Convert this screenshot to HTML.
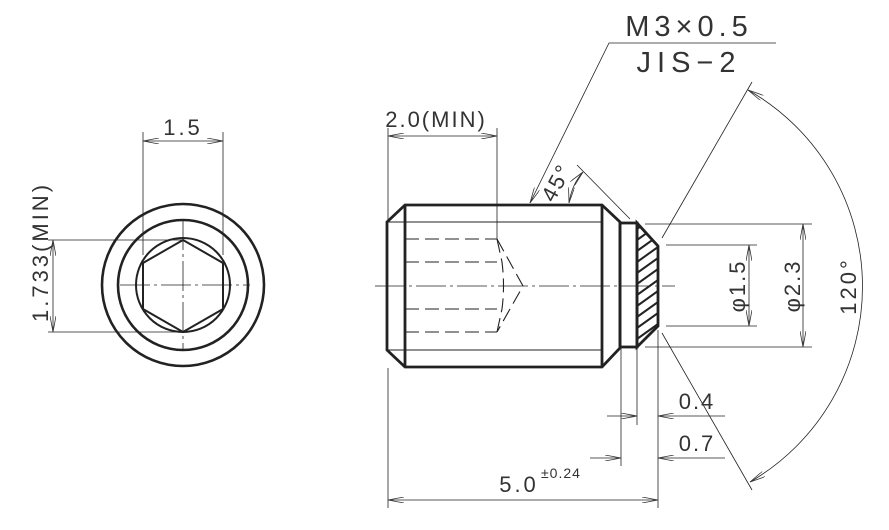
<!DOCTYPE html>
<html><head><meta charset="utf-8"><style>
html,body{margin:0;padding:0;background:#fff;}
svg{display:block;}
text{font-family:"Liberation Sans",sans-serif;fill:#333;}
</style></head><body>
<svg width="889" height="530" viewBox="0 0 889 530" xmlns="http://www.w3.org/2000/svg">
<defs>
<clipPath id="hc"><polygon points="637,223 658,246 658,326 637,347"/></clipPath>
<marker id="a" viewBox="0 0 16 6" refX="16" refY="3" markerWidth="16" markerHeight="6" orient="auto-start-reverse" markerUnits="userSpaceOnUse"><path d="M0,0 L16,3 L0,6" fill="none" stroke="#333" stroke-width="0.8"/></marker>
</defs>
<g stroke="#222" fill="none">
<circle cx="183" cy="285" r="81" stroke-width="2.6"/>
<circle cx="183" cy="285" r="65" stroke-width="2.6"/>
<circle cx="183" cy="285" r="47" stroke-width="2"/>
<polygon points="183,240 223,263 223,309 183,332 143,309 143,263" stroke-width="2"/>
<g stroke-width="0.8">
<line x1="120" y1="285" x2="250" y2="285" stroke-dasharray="30,4,3,4"/>
<line x1="183" y1="220" x2="183" y2="350" stroke-dasharray="30,4,3,4"/>
<line x1="143" y1="132" x2="143" y2="255"/>
<line x1="223" y1="132" x2="223" y2="255"/>
<line x1="143" y1="141" x2="223" y2="141" marker-start="url(#a)" marker-end="url(#a)"/>
<line x1="48" y1="240" x2="183" y2="240"/>
<line x1="48" y1="332" x2="183" y2="332"/>
<line x1="53" y1="240" x2="53" y2="332" marker-start="url(#a)" marker-end="url(#a)"/>
</g>
<g stroke-width="2.8">
<polygon points="405,205 602,205 620,222 620,348 602,367 405,367 387,350 387,222"/>
<line x1="405" y1="205" x2="405" y2="367"/>
<line x1="602" y1="205" x2="602" y2="367"/>
<rect x="620" y="223" width="17" height="124"/>
<polygon points="637,223 658,246 658,326 637,347"/>
</g>
<g clip-path="url(#hc)" stroke-width="2">
<line x1="637" y1="229" x2="658" y2="214"/><line x1="637" y1="240" x2="658" y2="225"/>
<line x1="637" y1="251" x2="658" y2="236"/><line x1="637" y1="262" x2="658" y2="247"/>
<line x1="637" y1="273" x2="658" y2="258"/><line x1="637" y1="284" x2="658" y2="269"/>
<line x1="637" y1="295" x2="658" y2="280"/><line x1="637" y1="306" x2="658" y2="291"/>
<line x1="637" y1="317" x2="658" y2="302"/><line x1="637" y1="328" x2="658" y2="313"/>
<line x1="637" y1="339" x2="658" y2="324"/><line x1="637" y1="350" x2="658" y2="335"/>
<line x1="637" y1="361" x2="658" y2="346"/>
</g>
<g stroke-width="1">
<line x1="387" y1="222" x2="602" y2="222"/>
<line x1="387" y1="350" x2="602" y2="350"/>
</g>
<g stroke-width="1.1" stroke-dasharray="14,6">
<line x1="405" y1="239" x2="497" y2="239"/>
<line x1="405" y1="262" x2="497" y2="262"/>
<line x1="405" y1="309" x2="497" y2="309"/>
<line x1="405" y1="332" x2="497" y2="332"/>
<polyline points="497,239 523,286 497,332"/>
<path d="M497,239 L502,262 Q505,286 502,309 L497,332"/>
</g>
<g stroke-width="0.8">
<line x1="375" y1="286" x2="675" y2="286" stroke-dasharray="30,4,3,4"/>
<line x1="388" y1="128" x2="388" y2="222"/>
<line x1="497" y1="128" x2="497" y2="239"/>
<line x1="388" y1="136" x2="497" y2="136" marker-start="url(#a)" marker-end="url(#a)"/>
<polyline points="776,43 609,43 530,203" marker-end="url(#a)"/>
<line x1="577" y1="165" x2="630" y2="219"/>
<path d="M569,203 Q572,184 583,172" marker-start="url(#a)" marker-end="url(#a)"/>
<line x1="645" y1="224" x2="812" y2="224"/>
<line x1="645" y1="347" x2="812" y2="347"/>
<line x1="803" y1="224" x2="803" y2="347" marker-start="url(#a)" marker-end="url(#a)"/>
<line x1="666" y1="245" x2="757" y2="245"/>
<line x1="666" y1="326" x2="757" y2="326"/>
<line x1="749" y1="245" x2="749" y2="326" marker-start="url(#a)" marker-end="url(#a)"/>
<line x1="662" y1="238" x2="752" y2="82"/>
<line x1="662" y1="333" x2="752" y2="490"/>
<path d="M748,90 A226,226 0 0 1 750,482" marker-start="url(#a)" marker-end="url(#a)"/>
<line x1="621" y1="348" x2="621" y2="466"/>
<line x1="637" y1="348" x2="637" y2="425"/>
<line x1="658" y1="330" x2="658" y2="508"/>
<line x1="388" y1="368" x2="388" y2="508"/>
<line x1="607" y1="416" x2="637" y2="416" marker-end="url(#a)"/>
<line x1="725" y1="416" x2="658" y2="416" marker-end="url(#a)"/>
<line x1="590" y1="458" x2="621" y2="458" marker-end="url(#a)"/>
<line x1="725" y1="458" x2="658" y2="458" marker-end="url(#a)"/>
<line x1="388" y1="500" x2="658" y2="500" marker-start="url(#a)" marker-end="url(#a)"/>
</g>
</g>
<g font-size="22">
<text x="183" y="135" text-anchor="middle" letter-spacing="3">1.5</text>
<text transform="translate(48,252) rotate(-90)" text-anchor="middle" letter-spacing="3">1.733(MIN)</text>
<text x="436" y="127" text-anchor="middle" letter-spacing="2">2.0(MIN)</text>
<text x="689" y="36" text-anchor="middle" font-size="29" letter-spacing="5">M3×0.5</text>
<text x="689" y="72" text-anchor="middle" font-size="29" letter-spacing="6">JIS−2</text>
<text transform="translate(563,186) rotate(-62)" text-anchor="middle" letter-spacing="2">45°</text>
<text transform="translate(745,286) rotate(-90)" text-anchor="middle" letter-spacing="2">φ1.5</text>
<text transform="translate(800,286) rotate(-90)" text-anchor="middle" letter-spacing="2">φ2.3</text>
<text transform="translate(856,286) rotate(-90)" text-anchor="middle" letter-spacing="3">120°</text>
<text x="697" y="409" text-anchor="middle" letter-spacing="2">0.4</text>
<text x="697" y="451" text-anchor="middle" letter-spacing="2">0.7</text>
<text x="519" y="492" text-anchor="middle" letter-spacing="3">5.0</text>
<text x="541" y="478" font-size="14" letter-spacing="1">±0.24</text>
</g>
</svg>
</body></html>
